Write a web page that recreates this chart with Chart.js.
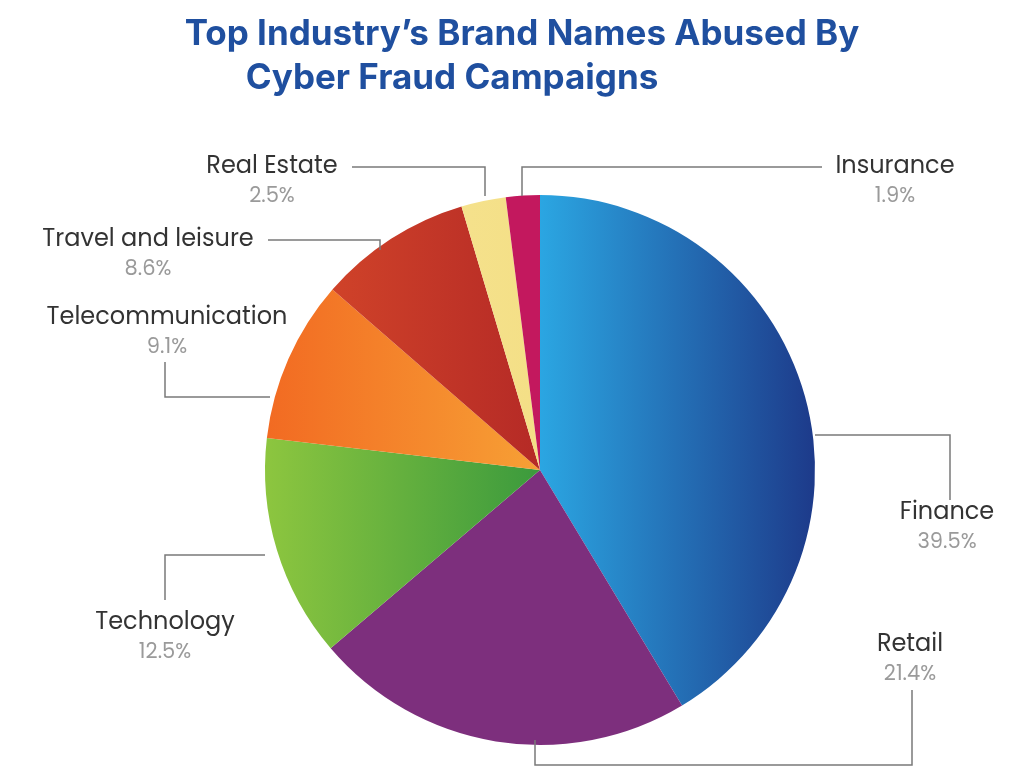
<!DOCTYPE html>
<html>
<head>
<meta charset="utf-8">
<script src="https://cdn.jsdelivr.net/npm/chart.js@4"></script>
<style>
  html, body { margin: 0; padding: 0; background: #fff; }
  #wrap { width: 1024px; height: 783px; }
</style>
</head>
<body>
<div id="wrap"><canvas id="pie"></canvas></div>
<script>
/* DATA */
const categories = ["Finance", "Retail", "Technology", "Telecommunication", "Travel and leisure", "Real Estate", "Insurance"];
const shares = [39.5, 21.4, 12.5, 9.1, 8.6, 2.5, 1.9];
const gradStops = [
    ["#2ba6e2", "#1d3a8a"],
    ["#7d2f7d", "#7d2f7d"],
    ["#8dc63f", "#3b9a3d"],
    ["#f26a22", "#f7a035"],
    ["#d84a2a", "#b52a26"],
    ["#f7e79a", "#f4df86"],
    ["#c3185e", "#c3185e"]
];

/* label layout: text anchor + leader polyline */
const labelLayout = [
    { x: 947, y: 513, line: [[815, 435], [950, 435], [950, 500]] },
    { x: 910, y: 645, line: [[535, 740], [535, 765], [912, 765], [912, 690]] },
    { x: 165, y: 623, line: [[265, 555], [165, 555], [165, 600]] },
    { x: 167, y: 318, line: [[270, 397], [165, 397], [165, 362]] },
    { x: 148, y: 240, line: [[268, 240], [380, 240], [380, 250]] },
    { x: 272, y: 167, line: [[352, 167], [485, 167], [485, 196]] },
    { x: 895, y: 167, line: [[522, 196], [522, 167], [822, 167]] }
];

const labelPlugin = {
    id: "labels",
    afterDraw(chart) {
        const ctx = chart.ctx;
        ctx.save();
        ctx.fillStyle = "#1f4f9f";
        ctx.font = "bold 35px Inter, 'Open Sans', sans-serif";
        ctx.textAlign = "center";
        ctx.textBaseline = "middle";
        ctx.fillText("Top Industry\u2019s Brand Names Abused By", 522, 34);
        ctx.fillText("Cyber Fraud Campaigns", 452, 78);

        ctx.strokeStyle = "#7a7a7a";
        ctx.lineWidth = 1.5;
        labelLayout.forEach((l, i) => {
            ctx.beginPath();
            l.line.forEach((p, j) => j ? ctx.lineTo(p[0], p[1]) : ctx.moveTo(p[0], p[1]));
            ctx.stroke();
            ctx.textAlign = "center";
            ctx.fillStyle = "#333";
            ctx.font = "24px Poppins, 'Open Sans', sans-serif";
            ctx.fillText(categories[i], l.x, l.y);
            ctx.fillStyle = "#9a9a9a";
            ctx.font = "21px Poppins, 'Open Sans', sans-serif";
            ctx.fillText(shares[i].toFixed(1) + "%", l.x, l.y + 30);
        });
        ctx.restore();
    }
};

new Chart(document.getElementById("pie"), {
    type: "pie",
    data: {
        labels: categories,
        datasets: [{
            data: shares,
            borderWidth: 0,
            backgroundColor: (c) => {
                const area = c.chart.chartArea;
                if (!area) return gradStops[c.dataIndex][0];
                const g = c.chart.ctx.createLinearGradient(area.left, 0, area.right, 0);
                const s = gradStops[c.dataIndex];
                if (c.dataIndex === 0) { g.addColorStop(0.5, s[0]); g.addColorStop(1, s[1]); }
                else { g.addColorStop(0, s[0]); g.addColorStop(0.5, s[1]); }
                return g;
            }
        }]
    },
    options: {
        responsive: true,
        maintainAspectRatio: false,
        animation: false,
        layout: { padding: { left: 265, right: 209, top: 195, bottom: 38 } },
        plugins: { legend: { display: false }, tooltip: { enabled: false } }
    },
    plugins: [labelPlugin]
});
</script>
</body>
</html>
